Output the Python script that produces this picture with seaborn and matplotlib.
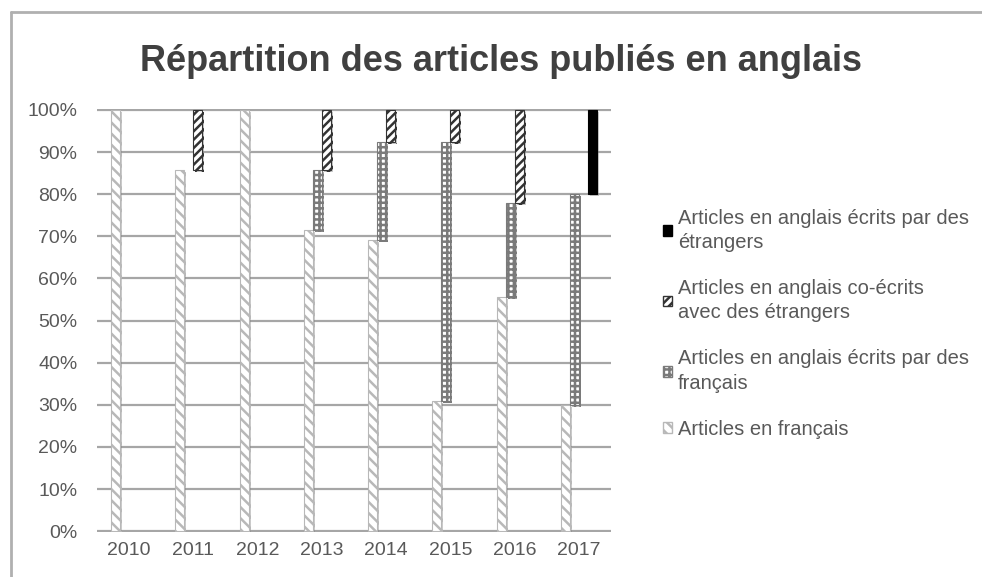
import matplotlib.pyplot as plt
import matplotlib.patheffects as pe
import numpy as np
import pandas as pd
import seaborn as sns
from matplotlib.lines import Line2D
from matplotlib.patches import Patch
from matplotlib.ticker import PercentFormatter

years = ["2010", "2011", "2012", "2013", "2014", "2015", "2016", "2017"]
# shares in percent, stacked in this order
francais = [100.0, 85.7, 100.0, 71.4, 69.2, 30.8, 55.6, 30.0]
anglais_fr = [0.0, 0.0, 0.0, 14.3, 23.1, 61.5, 22.2, 50.0]
co_ecrits = [0.0, 14.3, 0.0, 14.3, 7.7, 7.7, 22.2, 0.0]
etrangers = [0.0, 0.0, 0.0, 0.0, 0.0, 0.0, 0.0, 20.0]

labels = [
    "Articles en français",
    "Articles en anglais écrits par des\nfrançais",
    "Articles en anglais co-écrits\navec des étrangers",
    "Articles en anglais écrits par des\nétrangers",
]
values = [francais, anglais_fr, co_ecrits, etrangers]
styles = [
    dict(color="white", edgecolor="#b8b8b8", hatch="\\\\\\"),
    dict(color="white", edgecolor="#7a7a7a", hatch="+++"),
    dict(color="white", edgecolor="#333333", hatch="////"),
    dict(color="black", edgecolor="black", hatch=None),
]

sns.set_style("white")
plt.rcParams["font.family"] = ["Liberation Sans", "DejaVu Sans"]
plt.rcParams["hatch.linewidth"] = 1.8

fig = plt.figure(figsize=(9.82, 5.77), dpi=100)
ax = fig.add_axes([0.0988, 0.078, 0.5234, 0.733])

width = 0.14
idx = np.arange(len(years))
bottom = np.zeros(len(years))
shadow = [pe.SimplePatchShadow(offset=(1.5, -1.5), shadow_rgbFace="gray", alpha=0.4), pe.Normal()]
for k, (vals, st) in enumerate(zip(values, styles)):
    df = pd.DataFrame({"pos": idx + (k - 1.5) * width, "share": np.array(vals) / 100})
    sns.barplot(
        data=df, x="pos", y="share", native_scale=True, width=width,
        errorbar=None, saturation=1, bottom=bottom.copy(), color=st["color"],
        edgecolor=st["edgecolor"], hatch=st["hatch"], linewidth=0.8,
        path_effects=shadow, ax=ax,
    )
    bottom += df["share"].values

for p in ax.patches:
    if p.get_height() == 0:
        p.set_visible(False)

ax.set_xlim(-0.5, len(years) - 0.5)
ax.set_ylim(-0.002, 1.002)
ax.set_xticks(idx, years)
ax.set_yticks(np.linspace(0, 1, 11))
ax.yaxis.set_major_formatter(PercentFormatter(1.0, decimals=0))
ax.set_xlabel("")
ax.set_ylabel("")
ax.set_axisbelow(True)
ax.yaxis.grid(True, color="#a6a6a6", linewidth=1.6)
ax.xaxis.grid(False)
sns.despine(ax=ax, left=True, bottom=True)
ax.tick_params(axis="both", length=0, labelsize=14, labelcolor="#595959")
ax.tick_params(axis="y", pad=14)
ax.tick_params(axis="x", pad=7)

fig.text(0.51, 0.893, "Répartition des articles publiés en anglais",
         ha="center", va="center", fontsize=26, fontweight="bold", color="#404040")

handles = [Patch(facecolor=st["color"], edgecolor=st["edgecolor"], hatch=st["hatch"])
           for st in styles]
leg = fig.legend(
    handles[::-1], labels[::-1], loc="center left", bbox_to_anchor=(0.675, 0.439),
    frameon=False, fontsize=14.5, labelcolor="#595959", handlelength=0.45,
    handleheight=0.45, handletextpad=0.3, labelspacing=1.35, borderpad=0,
    borderaxespad=0,
)
for t in leg.get_texts():
    t.set_linespacing(1.35)

# outer frame of the picture
fig.add_artist(Line2D([11 / 982, 11 / 982], [0, 0.979], color="#b0b0b0", lw=2))
fig.add_artist(Line2D([11 / 982, 1], [0.979, 0.979], color="#b0b0b0", lw=2))

fig.savefig("out.png", dpi=100)
